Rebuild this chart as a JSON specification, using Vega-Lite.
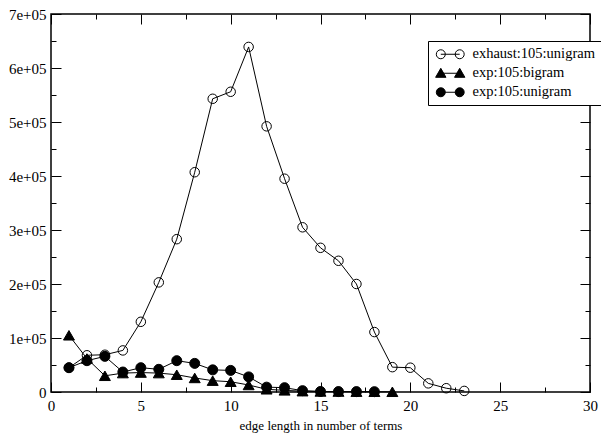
{
  "$schema": "https://vega.github.io/schema/vega-lite/v6.json",
  "width": 539,
  "height": 378,
  "autosize": {"type": "none"},
  "padding": {"left": 51, "top": 14, "right": 11, "bottom": 48},
  "background": "white",
  "config": {
    "view": {"stroke": "black", "strokeWidth": 1.5},
    "font": "Liberation Serif",
    "axis": {"grid": false, "domain": false, "tickColor": "black", "tickWidth": 1, "labelColor": "black", "labelFont": "Liberation Serif", "labelFontSize": 15, "titleFont": "Liberation Serif", "titleFontWeight": "normal", "titleColor": "black"},
    "legend": {
      "orient": "none", "legendX": 377, "legendY": 27, "title": null,
      "strokeColor": "black", "fillColor": "white", "padding": 6, "cornerRadius": 0,
      "labelFont": "Liberation Serif", "labelFontSize": 14.5, "labelColor": "black",
      "symbolSize": 81, "symbolOffset": 9, "labelOffset": 15, "rowPadding": 4,
      "symbolStrokeWidth": 1, "symbolStrokeColor": "black", "symbolOpacity": 1
    }
  },
  "data": {
    "values": [
      {"x": 1, "y": 45000, "series": "exhaust:105:unigram"},
      {"x": 2, "y": 68000, "series": "exhaust:105:unigram"},
      {"x": 3, "y": 69000, "series": "exhaust:105:unigram"},
      {"x": 4, "y": 77000, "series": "exhaust:105:unigram"},
      {"x": 5, "y": 130000, "series": "exhaust:105:unigram"},
      {"x": 6, "y": 203000, "series": "exhaust:105:unigram"},
      {"x": 7, "y": 283000, "series": "exhaust:105:unigram"},
      {"x": 8, "y": 407000, "series": "exhaust:105:unigram"},
      {"x": 9, "y": 543000, "series": "exhaust:105:unigram"},
      {"x": 10, "y": 556000, "series": "exhaust:105:unigram"},
      {"x": 11, "y": 639000, "series": "exhaust:105:unigram"},
      {"x": 12, "y": 492000, "series": "exhaust:105:unigram"},
      {"x": 13, "y": 395000, "series": "exhaust:105:unigram"},
      {"x": 14, "y": 305000, "series": "exhaust:105:unigram"},
      {"x": 15, "y": 267000, "series": "exhaust:105:unigram"},
      {"x": 16, "y": 243000, "series": "exhaust:105:unigram"},
      {"x": 17, "y": 200000, "series": "exhaust:105:unigram"},
      {"x": 18, "y": 111000, "series": "exhaust:105:unigram"},
      {"x": 19, "y": 46000, "series": "exhaust:105:unigram"},
      {"x": 20, "y": 45000, "series": "exhaust:105:unigram"},
      {"x": 21, "y": 16000, "series": "exhaust:105:unigram"},
      {"x": 22, "y": 7000, "series": "exhaust:105:unigram"},
      {"x": 23, "y": 2000, "series": "exhaust:105:unigram"},
      {"x": 1, "y": 105000, "series": "exp:105:bigram"},
      {"x": 2, "y": 62000, "series": "exp:105:bigram"},
      {"x": 3, "y": 30000, "series": "exp:105:bigram"},
      {"x": 4, "y": 35000, "series": "exp:105:bigram"},
      {"x": 5, "y": 36000, "series": "exp:105:bigram"},
      {"x": 6, "y": 35000, "series": "exp:105:bigram"},
      {"x": 7, "y": 32000, "series": "exp:105:bigram"},
      {"x": 8, "y": 26000, "series": "exp:105:bigram"},
      {"x": 9, "y": 21000, "series": "exp:105:bigram"},
      {"x": 10, "y": 19000, "series": "exp:105:bigram"},
      {"x": 11, "y": 13000, "series": "exp:105:bigram"},
      {"x": 12, "y": 5000, "series": "exp:105:bigram"},
      {"x": 13, "y": 3000, "series": "exp:105:bigram"},
      {"x": 14, "y": 1500, "series": "exp:105:bigram"},
      {"x": 15, "y": 1000, "series": "exp:105:bigram"},
      {"x": 16, "y": 800, "series": "exp:105:bigram"},
      {"x": 17, "y": 600, "series": "exp:105:bigram"},
      {"x": 18, "y": 500, "series": "exp:105:bigram"},
      {"x": 19, "y": 400, "series": "exp:105:bigram"},
      {"x": 1, "y": 45000, "series": "exp:105:unigram"},
      {"x": 2, "y": 58000, "series": "exp:105:unigram"},
      {"x": 3, "y": 66000, "series": "exp:105:unigram"},
      {"x": 4, "y": 37000, "series": "exp:105:unigram"},
      {"x": 5, "y": 45000, "series": "exp:105:unigram"},
      {"x": 6, "y": 42000, "series": "exp:105:unigram"},
      {"x": 7, "y": 58000, "series": "exp:105:unigram"},
      {"x": 8, "y": 53000, "series": "exp:105:unigram"},
      {"x": 9, "y": 41000, "series": "exp:105:unigram"},
      {"x": 10, "y": 40000, "series": "exp:105:unigram"},
      {"x": 11, "y": 28000, "series": "exp:105:unigram"},
      {"x": 12, "y": 9000, "series": "exp:105:unigram"},
      {"x": 13, "y": 8000, "series": "exp:105:unigram"},
      {"x": 14, "y": 2500, "series": "exp:105:unigram"},
      {"x": 15, "y": 1000, "series": "exp:105:unigram"},
      {"x": 16, "y": 800, "series": "exp:105:unigram"},
      {"x": 17, "y": 700, "series": "exp:105:unigram"},
      {"x": 18, "y": 600, "series": "exp:105:unigram"}
    ]
  },
  "layer": [
    {
      "mark": {"type": "line", "color": "black", "strokeWidth": 1},
      "encoding": {
        "x": {"field": "x", "type": "quantitative", "scale": {"domain": [0, 30], "nice": false, "zero": false},
          "axis": {"orient": "bottom", "values": [0, 5, 10, 15, 20, 25, 30], "ticks": false, "labelPadding": 6, "labelFlush": false, "labelOverlap": false, "title": "edge length in number of terms", "titleFontSize": 13, "titlePadding": 6}},
        "y": {"field": "y", "type": "quantitative", "scale": {"domain": [0, 700000], "nice": false, "zero": true},
          "axis": {"orient": "left", "values": [0, 100000, 200000, 300000, 400000, 500000, 600000, 700000], "ticks": false, "labelPadding": 5, "labelFlush": false, "labelOverlap": false, "labelExpr": "datum.value == 0 ? '0' : (datum.value / 100000) + 'e+05'", "title": null}},
        "detail": {"field": "series", "type": "nominal"}
      }
    },
    {
      "mark": {"type": "point", "stroke": "black", "strokeWidth": 1, "opacity": 1, "fillOpacity": 1,
        "shape": {"expr": "datum.series == 'exp:105:bigram' ? 'triangle-up' : 'circle'"},
        "fill": {"expr": "datum.series == 'exhaust:105:unigram' ? 'transparent' : 'black'"},
        "size": {"expr": "datum.series == 'exhaust:105:unigram' ? 90 : (datum.series == 'exp:105:bigram' ? 120 : 100)"}},
      "encoding": {
        "x": {"field": "x", "type": "quantitative", "axis": {"orient": "bottom", "values": [0, 5, 10, 15, 20, 25, 30], "tickSize": -10, "labels": false, "title": null}},
        "y": {"field": "y", "type": "quantitative", "axis": {"orient": "left", "values": [0, 100000, 200000, 300000, 400000, 500000, 600000, 700000], "tickSize": -10, "labels": false, "title": null}}
      }
    },
    {
      "mark": {"type": "point", "opacity": 0, "strokeWidth": 1},
      "encoding": {
        "x": {"field": "x", "type": "quantitative", "axis": {"orient": "bottom", "values": [2.5, 7.5, 12.5, 17.5, 22.5, 27.5], "tickSize": -5, "labels": false, "title": null}},
        "y": {"field": "y", "type": "quantitative", "axis": {"orient": "left", "values": [50000, 150000, 250000, 350000, 450000, 550000, 650000], "tickSize": -5, "labels": false, "title": null}},
        "shape": {"field": "series", "type": "nominal",
          "scale": {"domain": ["exhaust:105:unigram", "exp:105:bigram", "exp:105:unigram"],
            "range": [
              "M-1.1,0A1,1,0,1,1,-3.1,0A1,1,0,1,1,-1.1,0M-2.1,0L2.1,0M3.1,0A1,1,0,1,1,1.1,0A1,1,0,1,1,3.1,0",
              "M-2.1,-1.1L-0.95,0.9L-3.25,0.9ZM-2.1,0L2.1,0M2.1,-1.1L3.25,0.9L0.95,0.9Z",
              "M-1.1,0A1,1,0,1,1,-3.1,0A1,1,0,1,1,-1.1,0M-2.1,0L2.1,0M3.1,0A1,1,0,1,1,1.1,0A1,1,0,1,1,3.1,0"
            ]},
          "legend": {"orient": "none", "legendX": 377, "legendY": 27, "title": null}},
        "fill": {"field": "series", "type": "nominal",
          "scale": {"domain": ["exhaust:105:unigram", "exp:105:bigram", "exp:105:unigram"], "range": ["transparent", "black", "black"]},
          "legend": {"orient": "none", "legendX": 377, "legendY": 27, "title": null}},
        "stroke": {"field": "series", "type": "nominal",
          "scale": {"domain": ["exhaust:105:unigram", "exp:105:bigram", "exp:105:unigram"], "range": ["black", "black", "black"]},
          "legend": {"orient": "none", "legendX": 377, "legendY": 27, "title": null}}
      }
    },
    {
      "mark": {"type": "point", "opacity": 0},
      "encoding": {
        "x": {"field": "x", "type": "quantitative", "axis": {"orient": "top", "values": [0, 5, 10, 15, 20, 25, 30], "tickSize": -10, "labels": false, "title": null}},
        "y": {"field": "y", "type": "quantitative", "axis": {"orient": "right", "values": [0, 100000, 200000, 300000, 400000, 500000, 600000, 700000], "tickSize": -10, "labels": false, "title": null}}
      }
    },
    {
      "mark": {"type": "point", "opacity": 0},
      "encoding": {
        "x": {"field": "x", "type": "quantitative", "axis": {"orient": "top", "values": [2.5, 7.5, 12.5, 17.5, 22.5, 27.5], "tickSize": -5, "labels": false, "title": null}},
        "y": {"field": "y", "type": "quantitative", "axis": {"orient": "right", "values": [50000, 150000, 250000, 350000, 450000, 550000, 650000], "tickSize": -5, "labels": false, "title": null}}
      }
    }
  ],
  "resolve": {"axis": {"x": "independent", "y": "independent"}}
}
